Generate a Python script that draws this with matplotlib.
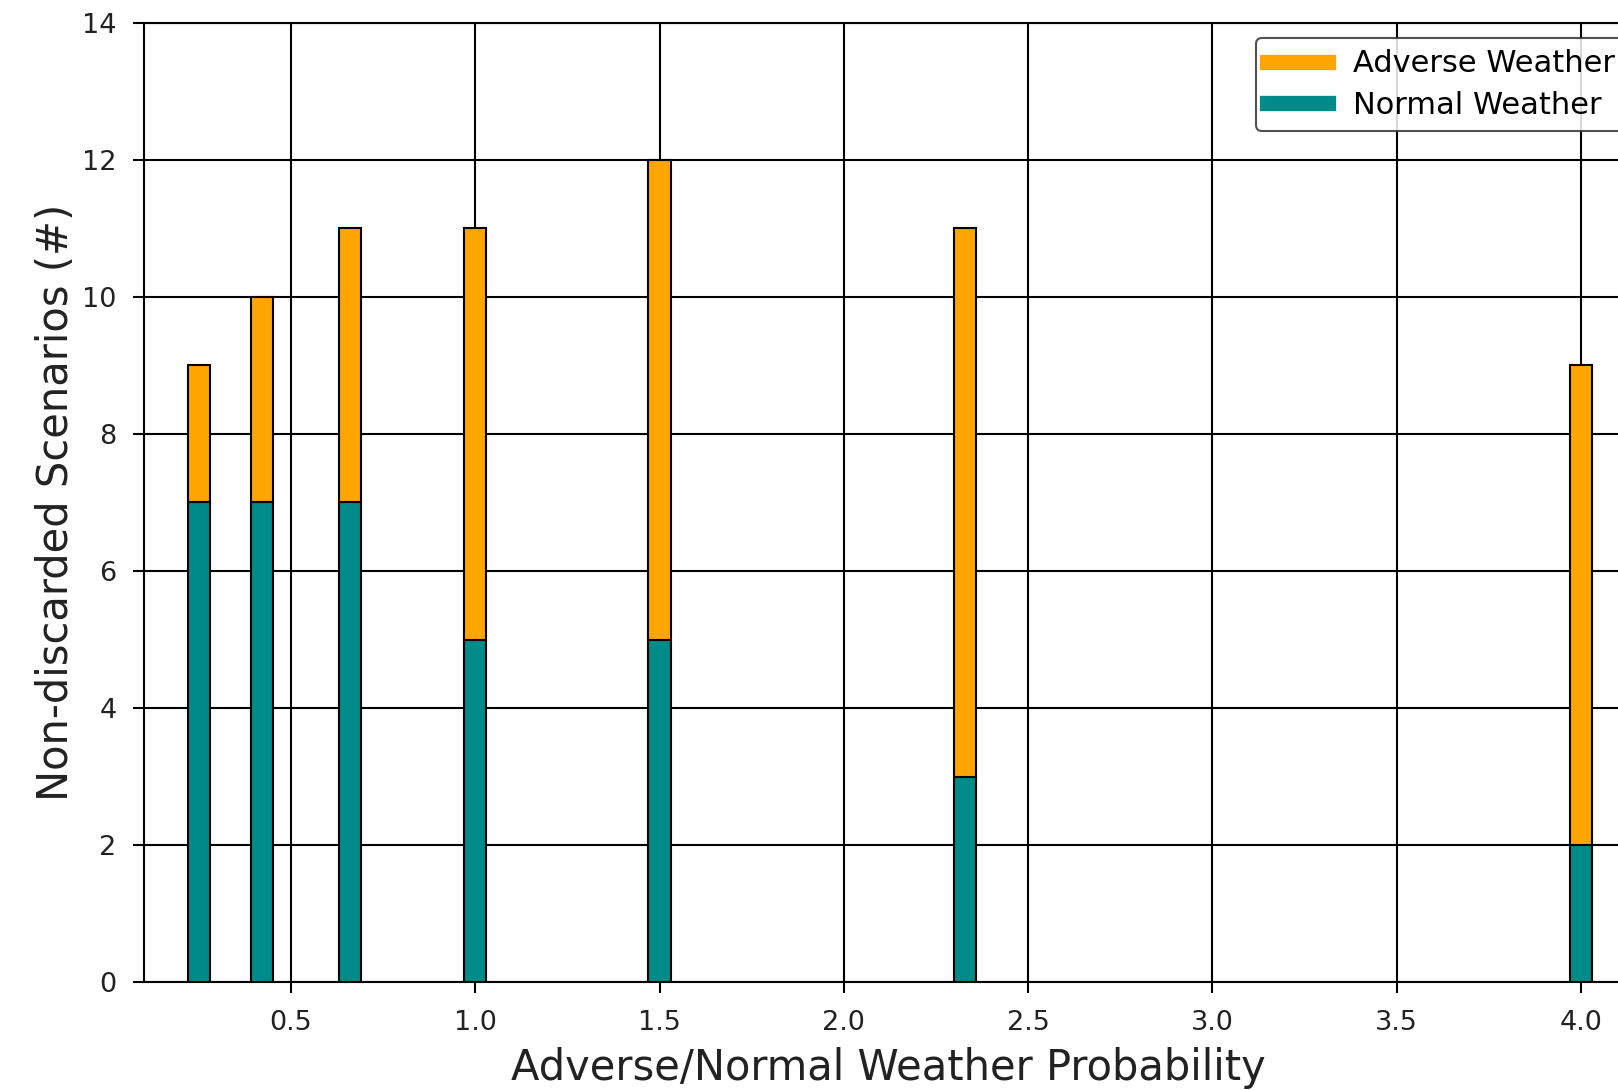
import matplotlib
matplotlib.use('Agg')
import matplotlib.pyplot as plt
from matplotlib.lines import Line2D

# adverse/normal probability ratio for each case
ratios = [0.25, 0.42, 0.66, 1.0, 1.5, 2.33, 4.0]
normal_counts = [7, 7, 7, 5, 5, 3, 2]
adverse_counts = [2, 3, 4, 6, 7, 8, 7]

fig = plt.figure(figsize=(16.18, 10.9), dpi=100)
# axes run past the right edge, like the cropped original
ax = fig.add_axes([0.0893, 0.099, 0.9196, 0.880])

ax.bar(ratios, normal_counts, width=0.06, color='#008B8B', edgecolor='black', linewidth=1.5, zorder=3)
ax.bar(ratios, adverse_counts, width=0.06, bottom=normal_counts, color='#FFA500',
       edgecolor='black', linewidth=1.5, zorder=3)

ax.set_xlim(0.1023, 4.14)
ax.set_ylim(0, 14)
ax.set_xticks([0.5, 1.0, 1.5, 2.0, 2.5, 3.0, 3.5, 4.0])
ax.set_yticks(range(0, 15, 2))
ax.grid(True, color='black', linewidth=1.5, zorder=0)
ax.tick_params(labelsize=19.5, length=8, width=1.5, pad=12, colors='black', labelcolor='#222222')
for s in ax.spines.values():
    s.set_linewidth(1.5)

ax.set_xlabel('Adverse/Normal Weather Probability', fontsize=30, color='#222222', labelpad=8)
ax.set_ylabel('Non-discarded Scenarios (#)', fontsize=30, color='#222222', labelpad=4)

handles = [Line2D([0], [0], color='#FFA500', lw=11),
           Line2D([0], [0], color='#008B8B', lw=11)]
leg = ax.legend(handles, ['Adverse Weather', 'Normal Weather'], loc='upper right',
                bbox_to_anchor=(1.006, 1.0),
                fontsize=22, framealpha=0.85, edgecolor='#333333', handlelength=2.0,
                labelspacing=0.4, borderaxespad=0.5, borderpad=0.37)
leg.get_frame().set_linewidth(1.5)

fig.savefig('out.png', dpi=100)
